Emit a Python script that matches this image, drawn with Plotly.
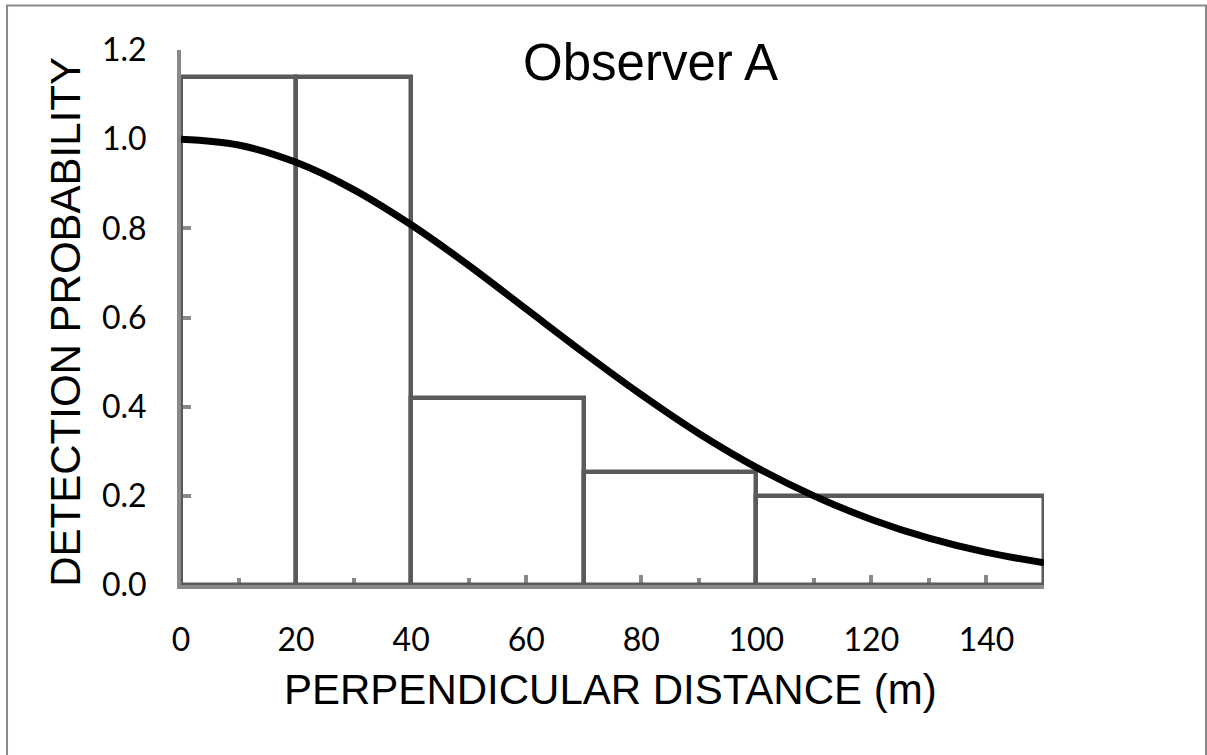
import plotly.graph_objects as go

# Histogram bins (perpendicular distance, m) and scaled detection frequencies
bin_left = [0, 20, 40, 70, 100]
bin_width = [20, 20, 30, 30, 50]
bin_height = [1.14, 1.14, 0.42, 0.253, 0.20]

# Fitted detection function
curve_x = [0, 10, 20, 30, 40, 50, 60, 70, 80, 90, 100, 110, 120, 130, 140, 150]
curve_y = [1.0, 0.987, 0.948, 0.887, 0.808, 0.717, 0.619, 0.521, 0.427, 0.340,
           0.264, 0.200, 0.147, 0.105, 0.073, 0.050]

title_text = "Observer A"
x_title = "PERPENDICULAR DISTANCE (m)"
y_title = "DETECTION PROBABILITY"

AXIS_GRAY = "#898989"
BAR_GRAY = "#5a5a5a"
TICK_FONT = dict(family="Lato, Carlito, 'Open Sans', sans-serif", size=32, color="black")
TITLE_FONT = "Liberation Sans, Arial, sans-serif"

fig = go.Figure()
fig.add_trace(go.Bar(
    x=bin_left, y=bin_height, width=bin_width, offset=0,
    marker=dict(color="rgba(255,255,255,0)", line=dict(color=BAR_GRAY, width=4.5)),
    hoverinfo="skip", showlegend=False,
))
fig.add_trace(go.Scatter(
    x=curve_x, y=curve_y, mode="lines", line=dict(color="black", width=7, shape="spline"),
    showlegend=False, cliponaxis=False,
))

fig.update_layout(
    width=1207, height=755,
    margin=dict(l=181, r=163, t=50, b=170),
    paper_bgcolor="white", plot_bgcolor="white",
    bargap=0,
    xaxis=dict(
        range=[0, 150], dtick=20, tick0=0, showgrid=False, zeroline=False,
        showline=True, linecolor=AXIS_GRAY, linewidth=4,
        ticks="inside", ticklen=10, tickwidth=4, tickcolor=AXIS_GRAY,
        minor=dict(dtick=10, ticks="inside", ticklen=7, tickwidth=4, tickcolor=AXIS_GRAY),
        tickfont=TICK_FONT, ticklabelstandoff=24, layer="below traces",
    ),
    yaxis=dict(
        range=[0, 1.2], dtick=0.2, tick0=0, tickformat=".1f", showgrid=False, zeroline=False,
        showline=True, linecolor=AXIS_GRAY, linewidth=4,
        ticks="inside", ticklen=10, tickwidth=4, tickcolor=AXIS_GRAY,
        tickfont=TICK_FONT, ticklabelstandoff=24, layer="below traces",
    ),
    annotations=[
        dict(text=title_text, xref="paper", yref="paper", x=0.5446, y=0.976,
             xanchor="center", yanchor="middle", showarrow=False,
             font=dict(family=TITLE_FONT, size=51, color="black")),
        dict(text=x_title, xref="paper", yref="paper", x=0.498, y=-0.196,
             xanchor="center", yanchor="middle", showarrow=False,
             font=dict(family=TITLE_FONT, size=42, color="black")),
        dict(text=y_title, xref="paper", yref="paper", x=-0.1335, y=0.4916,
             xanchor="center", yanchor="middle", showarrow=False, textangle=-90,
             font=dict(family=TITLE_FONT, size=42, color="black")),
    ],
    shapes=[
        dict(type="rect", xref="paper", yref="paper", x0=-0.2016, x1=1.1877,
             y0=-0.327, y1=1.0832, line=dict(color=AXIS_GRAY, width=2),
             fillcolor="rgba(0,0,0,0)", layer="below"),
    ],
)

fig.write_html("out.html", config={"displayModeBar": False},
               post_script="document.body.style.margin='0';document.body.style.overflow='hidden';")
